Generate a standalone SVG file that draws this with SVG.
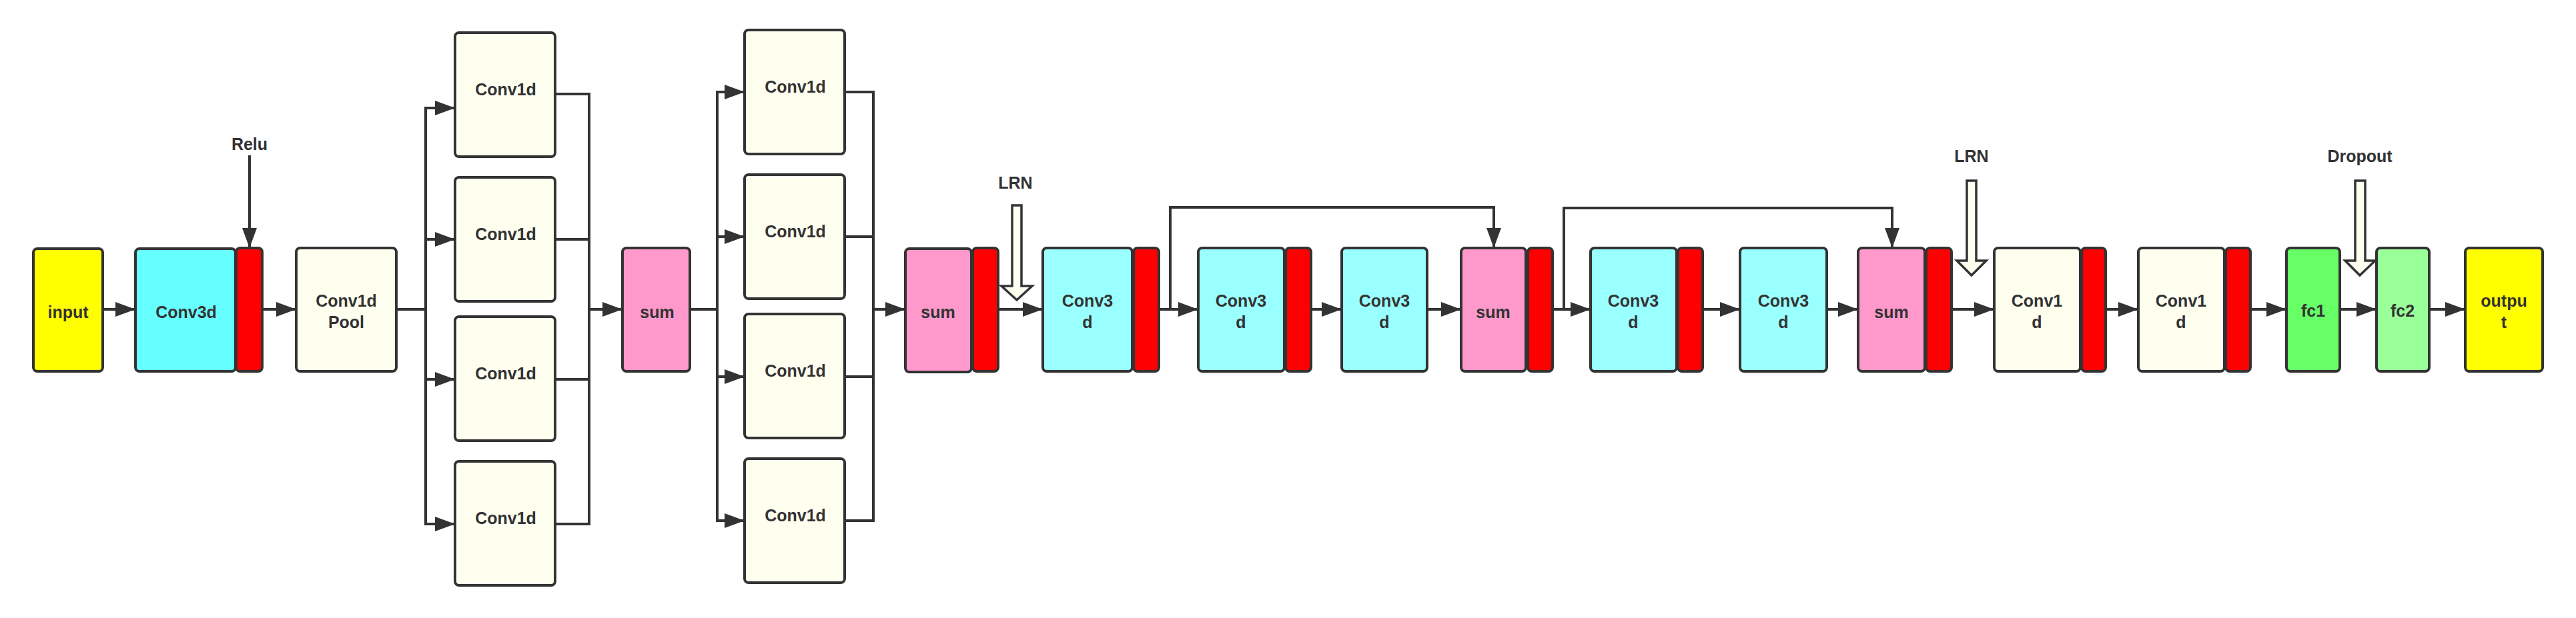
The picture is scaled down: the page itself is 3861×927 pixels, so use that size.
<svg xmlns="http://www.w3.org/2000/svg" width="3861" height="927" viewBox="0 0 3861 927">
<defs>
<marker id="ah" markerUnits="userSpaceOnUse" markerWidth="32" markerHeight="24" refX="30" refY="11" orient="auto">
<path d="M0,0 L30,11 L0,22 z" fill="#333"/>
</marker>
<style>
.b{stroke:#333;stroke-width:4}
.y{fill:#FFFF00}.c1{fill:#66FFFF}.c2{fill:#99FFFF}.cr{fill:#FFFFF0}.pk{fill:#FF99CC}.rd{fill:#FF0000}.g1{fill:#66FF66}.g2{fill:#99FF99}
.t{font-family:"Liberation Sans",Arial,sans-serif;font-weight:bold;font-size:25px;fill:#333;text-anchor:middle}
.ln{fill:none;stroke:#333;stroke-width:4}
.ha{fill:#FFFFF0;stroke:#333;stroke-width:3.5}
</style>
</defs>
<g id="connectors">
<line class="ln" x1="154" y1="464" x2="203" y2="464" marker-end="url(#ah)"/>
<line class="ln" x1="374" y1="233" x2="374" y2="372" marker-end="url(#ah)"/>
<line class="ln" x1="393" y1="464" x2="444" y2="464" marker-end="url(#ah)"/>
<polyline class="ln" points="594,464 638,464"/>
<polyline class="ln" points="638,162 638,786"/>
<line class="ln" x1="636" y1="162" x2="682" y2="162" marker-end="url(#ah)"/>
<line class="ln" x1="636" y1="359" x2="682" y2="359" marker-end="url(#ah)"/>
<line class="ln" x1="636" y1="569" x2="682" y2="569" marker-end="url(#ah)"/>
<line class="ln" x1="636" y1="786" x2="682" y2="786" marker-end="url(#ah)"/>
<polyline class="ln" points="832,141 883,141 883,786 832,786"/>
<line class="ln" x1="832" y1="359" x2="883" y2="359"/>
<line class="ln" x1="832" y1="569" x2="883" y2="569"/>
<line class="ln" x1="881" y1="464" x2="933" y2="464" marker-end="url(#ah)"/>
<polyline class="ln" points="1034,464 1075,464"/>
<polyline class="ln" points="1075,138 1075,781"/>
<line class="ln" x1="1073" y1="138" x2="1116" y2="138" marker-end="url(#ah)"/>
<line class="ln" x1="1073" y1="355" x2="1116" y2="355" marker-end="url(#ah)"/>
<line class="ln" x1="1073" y1="565" x2="1116" y2="565" marker-end="url(#ah)"/>
<line class="ln" x1="1073" y1="781" x2="1116" y2="781" marker-end="url(#ah)"/>
<polyline class="ln" points="1266,138 1309,138 1309,781 1266,781"/>
<line class="ln" x1="1266" y1="355" x2="1309" y2="355"/>
<line class="ln" x1="1266" y1="565" x2="1309" y2="565"/>
<line class="ln" x1="1307" y1="464" x2="1357" y2="464" marker-end="url(#ah)"/>
<line class="ln" x1="1496" y1="464" x2="1563" y2="464" marker-end="url(#ah)"/>
<line class="ln" x1="1737" y1="464" x2="1796" y2="464" marker-end="url(#ah)"/>
<polyline class="ln" points="1754,464 1754,311 2239,311 2239,372" marker-end="url(#ah)"/>
<line class="ln" x1="1925" y1="464" x2="2011" y2="464" marker-end="url(#ah)"/>
<line class="ln" x1="2139" y1="464" x2="2190" y2="464" marker-end="url(#ah)"/>
<line class="ln" x1="2327" y1="464" x2="2384" y2="464" marker-end="url(#ah)"/>
<polyline class="ln" points="2344,464 2344,312 2836,312 2836,372" marker-end="url(#ah)"/>
<line class="ln" x1="2552" y1="464" x2="2608" y2="464" marker-end="url(#ah)"/>
<line class="ln" x1="2738" y1="464" x2="2785" y2="464" marker-end="url(#ah)"/>
<line class="ln" x1="2925" y1="464" x2="2989" y2="464" marker-end="url(#ah)"/>
<line class="ln" x1="3156" y1="464" x2="3205" y2="464" marker-end="url(#ah)"/>
<line class="ln" x1="3373" y1="464" x2="3427" y2="464" marker-end="url(#ah)"/>
<line class="ln" x1="3507" y1="464" x2="3562" y2="464" marker-end="url(#ah)"/>
<line class="ln" x1="3641" y1="464" x2="3695" y2="464" marker-end="url(#ah)"/>
<path class="ha" d="M1517,308 L1531,308 L1531,429 L1547,429 L1524,450 L1501,429 L1517,429 z"/>
<path class="ha" d="M2948,271 L2962,271 L2962,391 L2977,391 L2955,413 L2933,391 L2948,391 z"/>
<path class="ha" d="M3530,271 L3545,271 L3545,391 L3560,391 L3537,413 L3515,391 L3530,391 z"/>
</g>
<g id="labels">
<text class="t" x="374" y="225">Relu</text>
<text class="t" x="1522" y="283">LRN</text>
<text class="t" x="2955" y="243">LRN</text>
<text class="t" x="3537" y="243">Dropout</text>
</g>
<g id="input"><rect class="b y" x="50" y="373" width="104" height="184" rx="6"/><text class="t" x="102" y="477">input</text></g>
<g id="conv3d_1"><rect class="b c1" x="203" y="373" width="150" height="184" rx="6"/><rect class="b rd" x="354" y="372" width="39" height="185" rx="6"/><text class="t" x="279" y="477">Conv3d</text></g>
<g id="pool"><rect class="b cr" x="444" y="372" width="150" height="185" rx="6"/><text class="t" x="519" y="460">Conv1d</text><text class="t" x="519" y="492">Pool</text></g>
<g id="c1a"><rect class="b cr" x="682" y="49" width="150" height="186" rx="6"/><text class="t" x="758" y="143">Conv1d</text></g>
<g id="c1b"><rect class="b cr" x="682" y="266" width="150" height="186" rx="6"/><text class="t" x="758" y="360">Conv1d</text></g>
<g id="c1c"><rect class="b cr" x="682" y="475" width="150" height="186" rx="6"/><text class="t" x="758" y="569">Conv1d</text></g>
<g id="c1d"><rect class="b cr" x="682" y="692" width="150" height="186" rx="6"/><text class="t" x="758" y="786">Conv1d</text></g>
<g id="sum1"><rect class="b pk" x="933" y="372" width="101" height="185" rx="6"/><text class="t" x="985" y="477">sum</text></g>
<g id="c2a"><rect class="b cr" x="1116" y="45" width="150" height="186" rx="6"/><text class="t" x="1192" y="139">Conv1d</text></g>
<g id="c2b"><rect class="b cr" x="1116" y="262" width="150" height="186" rx="6"/><text class="t" x="1192" y="356">Conv1d</text></g>
<g id="c2c"><rect class="b cr" x="1116" y="471" width="150" height="186" rx="6"/><text class="t" x="1192" y="565">Conv1d</text></g>
<g id="c2d"><rect class="b cr" x="1116" y="688" width="150" height="186" rx="6"/><text class="t" x="1192" y="782">Conv1d</text></g>
<g id="sum2"><rect class="b pk" x="1357" y="373" width="99" height="185" rx="6"/><rect class="b rd" x="1458" y="372" width="38" height="185" rx="6"/><text class="t" x="1406" y="477">sum</text></g>
<g id="conv3d_a"><rect class="b c2" x="1563" y="372" width="134" height="185" rx="6"/><rect class="b rd" x="1699" y="372" width="38" height="185" rx="6"/><text class="t" x="1630" y="460">Conv3</text><text class="t" x="1630" y="492">d</text></g>
<g id="conv3d_b"><rect class="b c2" x="1796" y="372" width="129" height="185" rx="6"/><rect class="b rd" x="1927" y="372" width="38" height="185" rx="6"/><text class="t" x="1860" y="460">Conv3</text><text class="t" x="1860" y="492">d</text></g>
<g id="conv3d_c"><rect class="b c2" x="2011" y="372" width="128" height="185" rx="6"/><text class="t" x="2075" y="460">Conv3</text><text class="t" x="2075" y="492">d</text></g>
<g id="sum3"><rect class="b pk" x="2190" y="372" width="97" height="185" rx="6"/><rect class="b rd" x="2290" y="372" width="37" height="185" rx="6"/><text class="t" x="2238" y="477">sum</text></g>
<g id="conv3d_d"><rect class="b c2" x="2384" y="372" width="129" height="185" rx="6"/><rect class="b rd" x="2515" y="372" width="37" height="185" rx="6"/><text class="t" x="2448" y="460">Conv3</text><text class="t" x="2448" y="492">d</text></g>
<g id="conv3d_e"><rect class="b c2" x="2608" y="372" width="130" height="185" rx="6"/><text class="t" x="2673" y="460">Conv3</text><text class="t" x="2673" y="492">d</text></g>
<g id="sum4"><rect class="b pk" x="2785" y="372" width="100" height="185" rx="6"/><rect class="b rd" x="2887" y="372" width="38" height="185" rx="6"/><text class="t" x="2835" y="477">sum</text></g>
<g id="conv1d_f"><rect class="b cr" x="2989" y="372" width="129" height="185" rx="6"/><rect class="b rd" x="3120" y="372" width="36" height="185" rx="6"/><text class="t" x="3053" y="460">Conv1</text><text class="t" x="3053" y="492">d</text></g>
<g id="conv1d_g"><rect class="b cr" x="3205" y="372" width="129" height="185" rx="6"/><rect class="b rd" x="3336" y="372" width="37" height="185" rx="6"/><text class="t" x="3269" y="460">Conv1</text><text class="t" x="3269" y="492">d</text></g>
<g id="fc1"><rect class="b g1" x="3427" y="372" width="80" height="185" rx="6"/><text class="t" x="3467" y="475">fc1</text></g>
<g id="fc2"><rect class="b g2" x="3562" y="372" width="79" height="185" rx="6"/><text class="t" x="3601" y="475">fc2</text></g>
<g id="output"><rect class="b y" x="3695" y="372" width="116" height="185" rx="6"/><text class="t" x="3753" y="460">outpu</text><text class="t" x="3753" y="492">t</text></g>
</svg>
